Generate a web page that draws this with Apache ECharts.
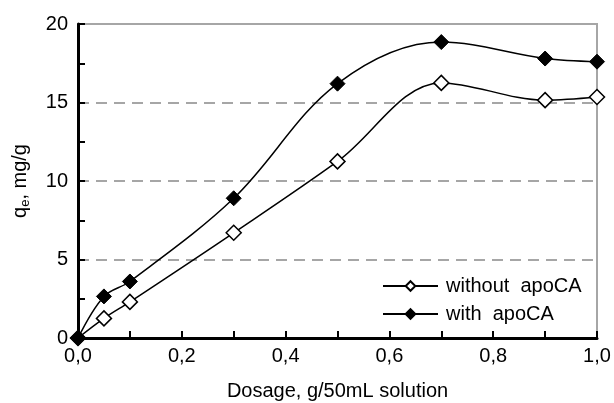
<!DOCTYPE html>
<html>
<head>
<meta charset="utf-8">
<script src="https://cdn.jsdelivr.net/npm/echarts@6/dist/echarts.min.js"></script>
<style>
  html, body { margin: 0; padding: 0; background: #fff; }
  #chart { width: 614px; height: 403px; }
</style>
</head>
<body>
<div id="chart"></div>
<script>
// dosage in g per 50 mL, q_e in mg/g
var dosage = [0, 0.05, 0.1, 0.3, 0.5, 0.7, 0.9, 1.0];
var withoutApoCA = [0, 1.25, 2.3, 6.7, 11.25, 16.25, 15.15, 15.35];
var withApoCA = [0, 2.65, 3.6, 8.9, 16.2, 18.85, 17.8, 17.6];
var seriesNames = ['without  apoCA', 'with  apoCA'];

function pairs(ys) {
  return dosage.map(function (x, i) { return [x, ys[i]]; });
}

var font = 'Liberation Sans, Arial, sans-serif';
var chart = echarts.init(document.getElementById('chart'), null, { renderer: 'canvas' });

chart.setOption({
  animation: false,
  backgroundColor: '#fff',
  grid: {
    left: 78, right: 17, top: 24, bottom: 65,
    outerBoundsMode: 'none',
    show: true, borderColor: '#a6a6a6', borderWidth: 2
  },
  legend: {
    orient: 'vertical',
    left: 377, top: 271,
    itemWidth: 55, itemHeight: 12, itemGap: 8,
    textStyle: { fontFamily: font, fontSize: 20, color: '#000', padding: [0, 0, 0, 3] },
    data: seriesNames
  },
  xAxis: {
    type: 'value',
    min: 0, max: 1, interval: 0.2,
    name: 'Dosage, g/50mL solution',
    nameLocation: 'middle', nameGap: 43,
    nameTextStyle: { fontFamily: font, fontSize: 20, color: '#000' },
    axisLine: { lineStyle: { color: '#000', width: 3 } },
    axisTick: { show: true, inside: true, length: 7, lineStyle: { color: '#000', width: 2 } },
    minorTick: { show: true, splitNumber: 2, length: 7, lineStyle: { color: '#000', width: 2 } },
    splitLine: { show: false },
    axisLabel: {
      fontFamily: font, fontSize: 20, color: '#000', margin: 8,
      formatter: function (v) { return v.toFixed(1).replace('.', ','); }
    }
  },
  yAxis: {
    type: 'value',
    min: 0, max: 20, interval: 5,
    name: 'q{sub|e}, mg/g',
    nameLocation: 'middle', nameGap: 46,
    nameTextStyle: {
      fontFamily: font, fontSize: 20, color: '#000',
      rich: { sub: { fontFamily: font, fontSize: 13, color: '#000', verticalAlign: 'bottom', padding: [10, 0, 0, 0] } }
    },
    axisLine: { show: true, lineStyle: { color: '#000', width: 3 } },
    axisTick: { show: true, inside: true, length: 7, lineStyle: { color: '#000', width: 2 } },
    minorTick: { show: true, splitNumber: 2, length: 7, lineStyle: { color: '#000', width: 2 } },
    splitLine: { show: true, lineStyle: { color: '#a6a6a6', width: 2, type: [11, 7] } },
    axisLabel: { fontFamily: font, fontSize: 20, color: '#000', margin: 10 }
  },
  series: [
    {
      name: seriesNames[0],
      type: 'line',
      data: pairs(withoutApoCA),
      smooth: 0.35,
      symbol: 'diamond', symbolSize: 15,
      lineStyle: { color: '#000', width: 1.5 },
      itemStyle: { color: '#fff', borderColor: '#000', borderWidth: 1.5 },
      z: 3
    },
    {
      name: seriesNames[1],
      type: 'line',
      data: pairs(withApoCA),
      smooth: 0.35,
      symbol: 'diamond', symbolSize: 15,
      lineStyle: { color: '#000', width: 1.5 },
      itemStyle: { color: '#000', borderColor: '#000', borderWidth: 1 },
      z: 4
    }
  ]
});
</script>
</body>
</html>
